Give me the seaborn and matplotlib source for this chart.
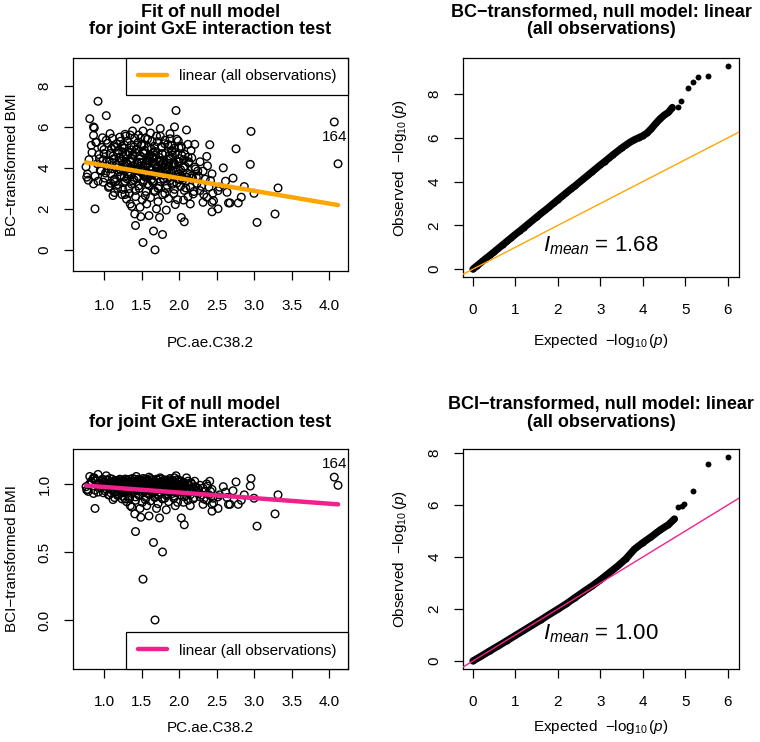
#null model fits and QQ plots for BC / BCI transformed BMI
import numpy as np
import pandas as pd
import seaborn as sns
from matplotlib import pyplot as plt

# scatter data: PC.ae.C38.2 vs transformed BMI
pc_ae = [0.92, 0.81, 1.03, 1.43, 1.60, 1.96, 0.86, 0.87, 2.10, 2.96, 4.07, 4.12, 2.41, 2.76, 2.37,
         2.95, 2.59, 2.72, 3.32, 2.87, 3.00, 3.28, 3.04, 0.88, 1.52, 1.68, 1.66, 1.78, 1.42, 2.07,
         2.03, 1.74, 1.60, 1.49, 1.41, 1.37, 2.44, 2.52, 2.79, 2.68, 2.83, 2.46, 0.77, 0.86,
         1.75, 1.88, 1.94, 1.52, 1.38, 1.28, 1.08, 0.98, 0.86, 2.21, 2.12, 2.00, 2.17, 2.21, 2.32,
         2.44, 2.42, 2.40, 2.45, 2.37, 2.32, 2.44, 2.19, 2.28, 2.52, 2.66, 1.12, 1.24, 1.35, 1.48,
         1.57, 1.70, 1.83, 1.95, 2.06, 2.15, 1.30, 0.99, 2.54, 2.64, 2.62,
         0.76, 0.78, 0.80, 0.84, 0.83, 0.90, 0.79,
         0.88, 0.91, 0.93, 0.95, 0.97, 0.99, 0.92, 1.00,
         1.02, 1.04, 1.05, 1.07, 1.08, 1.10, 1.11, 1.13, 1.14, 1.15,
         1.17, 1.18, 1.19, 1.21, 1.22, 1.23, 1.25, 1.26, 1.27, 1.28, 1.29,
         1.31, 1.32, 1.33, 1.34, 1.36, 1.37, 1.38, 1.40, 1.41, 1.42, 1.43, 1.44, 1.45,
         1.46, 1.47, 1.48, 1.49, 1.50, 1.51, 1.52, 1.53, 1.54, 1.55, 1.56, 1.57, 1.58, 1.59, 1.60,
         1.61, 1.62, 1.63, 1.64, 1.65, 1.66, 1.67, 1.68, 1.69, 1.70, 1.71, 1.72, 1.73, 1.74,
         1.76, 1.77, 1.78, 1.79, 1.80, 1.81, 1.82, 1.83, 1.85, 1.86, 1.87, 1.88, 1.89,
         1.91, 1.92, 1.93, 1.95, 1.96, 1.97, 1.98, 1.99, 2.01, 2.02, 2.03, 2.04,
         2.06, 2.07, 2.08, 2.09, 2.11, 2.12, 2.13, 2.15, 2.16, 2.18, 2.20, 2.22, 2.24,
         2.26, 2.28, 2.30, 2.33, 2.35, 2.38,
         1.06, 1.19, 1.33, 1.46, 1.58, 1.72, 1.84, 1.97, 2.09,
         1.01, 1.13, 1.27, 1.40, 1.53, 1.66, 1.79, 1.92, 2.05, 2.17,
         0.96, 1.09, 1.22, 1.35, 1.49, 1.62, 1.76, 1.90, 2.02, 2.14,
         1.04, 1.16, 1.30, 1.43, 1.56, 1.69, 1.82, 1.95, 2.08,
         0.94, 1.07, 1.20, 1.34, 1.47, 1.60, 1.74, 1.87, 2.00, 2.12, 2.25,
         1.00, 1.12, 1.25, 1.38, 1.52, 1.65, 1.78, 1.91, 2.04,
         1.10, 1.24, 1.37, 1.50, 1.63, 1.77, 1.90, 2.03,
         0.89, 1.03, 1.17, 1.31, 1.45, 1.58, 1.71, 1.85, 1.99, 2.13,
         1.14, 1.28, 1.42, 1.55, 1.68, 1.81, 1.94,
         1.21, 1.35, 1.49, 1.62, 1.75, 1.88,
         1.09, 1.36, 1.57, 1.79, 2.01, 2.23,
         1.26, 1.44, 1.65, 1.86, 2.06,
         1.23, 1.29, 1.41, 1.48, 1.55, 1.61, 1.67, 1.73, 1.80, 1.84, 1.27, 1.39, 1.51, 1.64, 1.70,
         1.83, 1.31, 1.44, 1.53, 1.59, 1.68, 1.76, 1.87, 1.21, 1.36, 1.46, 1.57, 1.66, 1.79, 1.93,
         1.15, 1.26, 1.38, 1.52, 1.63, 1.75, 1.88, 2.00, 1.20, 1.32, 1.45, 1.57, 1.71, 1.83, 1.96,
         1.11, 1.24, 1.36, 1.50, 1.61, 1.73, 1.86, 1.98, 1.18, 1.30, 1.42, 1.54, 1.66, 1.78, 1.91,
         1.13, 1.27, 1.40, 1.53, 1.67, 1.81, 1.94, 1.06, 1.99, 2.10]
bmi_bc = [7.25, 6.40, 6.55, 6.39, 6.27, 6.80, 6.00, 5.95, 5.85, 5.78, 6.24, 4.20, 5.13, 4.93, 4.56,
          4.17, 4.00, 3.50, 3.02, 3.09, 2.76, 1.75, 1.34, 2.00, 0.36, 0.00, 0.92, 0.75, 1.19, 1.37,
          1.58, 1.58, 1.67, 1.62, 1.75, 2.12, 1.86, 2.00, 2.29, 2.29, 2.57, 2.40, 3.55, 3.22,
          5.92, 5.67, 6.00, 5.80, 5.80, 5.64, 5.67, 5.47, 5.59, 5.15, 5.15, 4.98, 4.49, 4.04, 3.84,
          3.71, 3.38, 3.06, 2.76, 2.57, 2.32, 2.32, 2.73, 2.89, 2.89, 2.29, 2.65, 2.70, 2.24, 2.08,
          2.24, 2.00, 1.94, 2.21, 2.43, 2.24, 2.48, 3.30, 3.06, 2.81, 3.35,
          4.05, 3.70, 4.40, 4.75, 5.10, 5.25, 3.40,
          3.60, 4.20, 4.65, 3.90, 5.00, 4.40, 3.35, 4.90,
          3.75, 4.30, 5.20, 3.10, 4.70, 3.95, 5.45, 4.45, 3.45, 5.00,
          4.15, 3.00, 4.85, 3.60, 5.30, 4.40, 2.95, 3.90, 4.95, 3.35, 5.55,
          4.20, 3.70, 4.75, 2.75, 5.10, 3.20, 4.45, 3.95, 5.45, 2.60, 4.90, 3.50, 4.20,
          5.60, 3.00, 4.60, 3.80, 5.15, 2.45, 4.05, 3.40, 4.85, 5.45, 2.85, 3.65, 4.35, 5.00, 3.15,
          4.60, 2.55, 3.90, 5.30, 3.35, 4.25, 2.90, 4.80, 3.60, 5.55, 4.05, 2.35, 3.10, 4.50,
          3.80, 5.05, 2.70, 4.25, 3.45, 5.35, 4.70, 3.00, 3.95, 2.50, 4.45, 3.55, 5.10,
          3.20, 4.20, 2.75, 4.75, 3.65, 5.40, 2.45, 3.90, 4.45, 3.10, 5.05, 3.50,
          4.00, 2.90, 4.65, 3.35, 3.75, 2.60, 4.30, 3.05, 4.85, 3.50, 2.85, 3.95, 3.25,
          3.60, 4.30, 3.10, 2.70, 3.45, 4.10,
          3.05, 3.18, 2.98, 3.12, 3.22, 3.00, 3.15, 3.25, 3.02,
          3.50, 3.38, 3.55, 3.42, 3.60, 3.30, 3.48, 3.58, 3.40, 3.62,
          3.85, 3.72, 3.90, 3.78, 3.95, 3.70, 3.88, 3.76, 3.92, 3.68,
          4.10, 4.02, 4.18, 4.05, 4.22, 4.12, 4.00, 4.15, 4.08,
          4.45, 4.32, 4.50, 4.38, 4.28, 4.48, 4.35, 4.42, 4.30, 4.52, 3.85,
          4.70, 4.58, 4.78, 4.62, 4.75, 4.55, 4.68, 4.80, 4.60,
          4.95, 5.05, 4.88, 5.10, 4.92, 5.00, 4.85, 4.98,
          5.25, 5.35, 5.18, 5.30, 5.22, 5.40, 5.28, 5.15, 5.32, 4.25,
          2.80, 2.70, 2.90, 2.65, 2.85, 2.75, 2.95,
          5.50, 5.60, 5.45, 5.70, 5.55, 5.42,
          3.25, 3.65, 4.35, 3.80, 3.45, 3.55,
          4.55, 3.95, 3.30, 4.05, 4.40,
          3.62, 4.28, 3.88, 4.44, 3.56, 4.06, 4.62, 3.74, 4.38, 3.92, 4.02, 4.66, 3.84, 4.52, 3.98,
          4.14, 3.46, 4.24, 4.72, 3.68, 4.16, 4.34, 4.58, 4.48, 3.96, 3.58, 4.12, 3.72, 3.64, 4.26,
          3.32, 3.28, 3.36, 3.30, 3.42, 3.34, 3.38, 3.44, 3.82, 3.80, 3.86, 3.78, 3.84, 3.82, 3.80,
          4.26, 4.32, 4.30, 4.24, 4.34, 4.28, 4.22, 4.30, 4.72, 4.68, 4.74, 4.70, 4.76, 4.66, 4.64,
          5.08, 5.12, 5.02, 5.14, 5.06, 5.18, 4.96, 3.95, 3.70, 3.55]
bmi_bci = [1.07, 1.055, 1.06, 1.055, 1.05, 1.06, 1.045, 1.045, 1.045, 1.04, 1.05, 0.99, 1.02, 1.015, 1.00,
           0.985, 0.98, 0.95, 0.92, 0.92, 0.895, 0.78, 0.69, 0.82, 0.30, 0.00, 0.57, 0.50, 0.65, 0.70,
           0.75, 0.75, 0.765, 0.755, 0.78, 0.83, 0.80, 0.82, 0.85, 0.85, 0.88, 0.86, 0.955, 0.93,
           1.045, 1.04, 1.045, 1.04, 1.04, 1.035, 1.04, 1.035, 1.035, 1.02, 1.02, 1.02, 1.00, 0.98, 0.97,
           0.96, 0.945, 0.92, 0.895, 0.88, 0.85, 0.85, 0.89, 0.905, 0.905, 0.85, 0.885, 0.89, 0.84, 0.82,
           0.84, 0.82, 0.81, 0.84, 0.865, 0.84, 0.87, 0.935, 0.92, 0.90, 0.94,
           0.98, 0.96, 0.995, 1.01, 1.02, 1.025, 0.945,
           0.955, 0.99, 1.005, 0.975, 1.02, 0.995, 0.94, 1.015,
           0.965, 0.99, 1.025, 0.92, 1.01, 0.975, 1.035, 0.995, 0.945, 1.02,
           0.985, 0.915, 1.01, 0.955, 1.03, 0.995, 0.91, 0.975, 1.015, 0.94, 1.035,
           0.99, 0.96, 1.01, 0.895, 1.02, 0.93, 0.995, 0.975, 1.035, 0.88, 1.015, 0.95, 0.99,
           1.035, 0.915, 1.005, 0.97, 1.02, 0.865, 0.98, 0.945, 1.01, 1.035, 0.90, 0.955, 0.99, 1.02, 0.925,
           1.005, 0.875, 0.975, 1.03, 0.94, 0.99, 0.905, 1.01, 0.955, 1.035, 0.98, 0.855, 0.92, 1.00,
           0.97, 1.02, 0.89, 0.99, 0.945, 1.03, 1.01, 0.915, 0.975, 0.87, 0.995, 0.95, 1.02,
           0.93, 0.99, 0.895, 1.01, 0.955, 1.03, 0.865, 0.975, 0.995, 0.92, 1.02, 0.95,
           0.98, 0.905, 1.005, 0.94, 0.96, 0.88, 0.99, 0.92, 1.01, 0.95, 0.90, 0.975, 0.935,
           0.955, 0.99, 0.92, 0.89, 0.945, 0.985,
           0.92, 0.925, 0.91, 0.92, 0.93, 0.915, 0.925, 0.935, 0.915,
           0.95, 0.94, 0.95, 0.945, 0.955, 0.935, 0.95, 0.955, 0.945, 0.955,
           0.97, 0.96, 0.975, 0.965, 0.975, 0.96, 0.97, 0.965, 0.975, 0.96,
           0.985, 0.98, 0.99, 0.98, 0.99, 0.985, 0.98, 0.985, 0.985,
           1.00, 0.99, 1.00, 0.995, 0.99, 1.00, 0.995, 0.995, 0.99, 1.00, 0.97,
           1.01, 1.005, 1.01, 1.005, 1.01, 1.00, 1.01, 1.01, 1.005,
           1.015, 1.02, 1.015, 1.02, 1.015, 1.02, 1.01, 1.02,
           1.025, 1.03, 1.025, 1.03, 1.025, 1.03, 1.03, 1.02, 1.03, 0.99,
           0.90, 0.89, 0.905, 0.885, 0.90, 0.895, 0.91,
           1.035, 1.035, 1.03, 1.04, 1.035, 1.03,
           0.935, 0.955, 0.995, 0.97, 0.945, 0.95,
           1.00, 0.975, 0.935, 0.98, 0.995,
           0.955, 0.99, 0.97, 1.00, 0.95, 0.98, 1.005, 0.96, 0.995, 0.975, 0.98, 1.01, 0.97, 1.00, 0.98,
           0.985, 0.945, 0.99, 1.01, 0.96, 0.985, 0.99, 1.005, 1.00, 0.975, 0.955, 0.985, 0.96, 0.955, 0.99,
           0.94, 0.935, 0.94, 0.935, 0.945, 0.94, 0.94, 0.945, 0.97, 0.97, 0.97, 0.965, 0.97, 0.97, 0.97,
           0.99, 0.99, 0.99, 0.99, 0.99, 0.99, 0.99, 0.99, 1.01, 1.01, 1.01, 1.01, 1.01, 1.01, 1.005,
           1.02, 1.02, 1.02, 1.02, 1.02, 1.025, 1.015, 0.975, 0.96, 0.95]
label_164 = "164"

# fitted null model lines (intercept, slope)
fit_bc = (4.74, -0.62)
fit_bci = (1.019, -0.041)

# QQ data: expected vs observed -log10(p)
qq_bc_exp = [0.0, 0.1, 0.2, 0.3, 0.4, 0.5, 0.6, 0.7, 0.8, 0.9, 1.0, 1.1, 1.2, 1.3, 1.4, 1.5, 1.6,
             1.7, 1.8, 1.9, 2.0, 2.1, 2.2, 2.3, 2.4, 2.5, 2.6, 2.7, 2.8, 2.9, 3.0, 3.1, 3.2, 3.3,
             3.4, 3.5, 3.6, 3.7, 3.8, 3.9, 4.0, 4.1, 4.2, 4.3, 4.4, 4.5, 4.6,
             4.69, 4.83, 4.89, 5.06, 5.17, 5.30, 5.52, 6.01]
qq_bc_obs = [0.00, 0.16, 0.32, 0.48, 0.63, 0.79, 0.95, 1.11, 1.27, 1.43, 1.59, 1.74, 1.90, 2.06,
             2.22, 2.38, 2.54, 2.69, 2.85, 3.01, 3.17, 3.33, 3.49, 3.65, 3.80, 3.96, 4.12, 4.28,
             4.44, 4.60, 4.76, 4.91, 5.07, 5.23, 5.38, 5.53, 5.67, 5.80, 5.91, 6.00, 6.09, 6.22,
             6.42, 6.65, 6.86, 7.03, 7.16,
             7.38, 7.42, 7.70, 8.29, 8.53, 8.79, 8.82, 9.29]
qq_bci_exp = [0.0, 0.2, 0.4, 0.6, 0.8, 1.0, 1.2, 1.4, 1.6, 1.8, 2.0, 2.2, 2.4, 2.6, 2.8, 3.0,
              3.2, 3.4, 3.6, 3.8, 4.0, 4.2, 4.4, 4.6, 4.74,
              4.82, 4.91, 4.97, 5.17, 5.52, 6.01]
qq_bci_obs = [0.00, 0.19, 0.39, 0.58, 0.78, 0.98, 1.18, 1.38, 1.58, 1.79, 1.99, 2.20, 2.43, 2.66,
              2.88, 3.12, 3.38, 3.64, 3.93, 4.30, 4.55, 4.78, 5.03, 5.24, 5.46,
              5.91, 5.97, 6.04, 6.55, 7.58, 7.86]
imean_bc = 1.68
imean_bci = 1.00

sns.set_theme(style="ticks")
plt.rcParams['font.family'] = ['Liberation Sans', 'DejaVu Sans']
plt.rcParams['mathtext.fontset'] = 'custom'
plt.rcParams['mathtext.rm'] = 'Liberation Sans'
plt.rcParams['mathtext.it'] = 'Liberation Sans:italic'
plt.rcParams['mathtext.bf'] = 'Liberation Sans:bold'
plt.rcParams['axes.edgecolor'] = 'black'
plt.rcParams['axes.linewidth'] = 0.9
plt.rcParams['text.color'] = 'black'
plt.rcParams['axes.labelcolor'] = 'black'
plt.rcParams['xtick.color'] = 'black'
plt.rcParams['ytick.color'] = 'black'

orange = "#FFA500"
pink = "#F0208C"
fs = 11

fig = plt.figure(figsize=(7.6, 7.42), dpi=100)
axTL = fig.add_axes([0.0961, 0.6348, 0.3618, 0.2870])
axTR = fig.add_axes([0.6092, 0.6267, 0.3632, 0.2951])
axBL = fig.add_axes([0.0961, 0.0984, 0.3618, 0.2965])
axBR = fig.add_axes([0.6092, 0.0984, 0.3632, 0.2965])

df = pd.DataFrame({"x": pc_ae, "bc": bmi_bc, "bci": bmi_bci})
xr = np.array([min(pc_ae), max(pc_ae)])


def style_axes(ax, yticks, ylabels, xticks, xlabels, xpad):
    ax.set_xticks(xticks)
    ax.set_xticklabels(xlabels)
    ax.set_yticks(yticks)
    ax.set_yticklabels(ylabels, rotation=90, va='center')
    ax.tick_params(axis='both', length=6.5, width=0.9, color='black', labelsize=fs, labelcolor='black')
    ax.tick_params(axis='x', pad=xpad)
    ax.tick_params(axis='y', pad=9)
    for s in ax.spines.values():
        s.set_visible(True)
        s.set_color('black')


def fitpanel(ax, ycol, fit, col, ylab, yticks, ylabels, ylim, loc, lab_y, xpad, lpad, tpad):
    sns.scatterplot(data=df, x="x", y=ycol, ax=ax, marker='o', s=30, facecolors='none',
                    edgecolor='black', linewidth=1.0, zorder=2)
    sns.lineplot(x=xr, y=fit[0] + fit[1] * xr, ax=ax, color=col, lw=3.2,
                 label="linear (all observations)", zorder=3)
    ax.text(4.07, lab_y, label_164, ha='center', va='center', fontsize=fs)
    ax.set_xlim(0.587, 4.253)
    ax.set_ylim(*ylim)
    style_axes(ax, yticks, ylabels, [1.0, 1.5, 2.0, 2.5, 3.0, 3.5, 4.0],
               ["1.0", "1.5", "2.0", "2.5", "3.0", "3.5", "4.0"], xpad)
    ax.set_xlabel("PC.ae.C38.2", fontsize=fs, labelpad=lpad)
    ax.set_ylabel(ylab, fontsize=fs, labelpad=13)
    ax.set_title("Fit of null model\nfor joint GxE interaction test", fontsize=13,
                 fontweight='bold', pad=tpad, linespacing=1.05)
    leg = ax.legend(loc=loc, fontsize=fs, frameon=True, fancybox=False, edgecolor='black',
                    framealpha=1, borderaxespad=0, borderpad=0.75, handlelength=1.9,
                    handletextpad=0.8)
    leg.get_frame().set_linewidth(0.9)


def qqpanel(ax, ex, ob, col, title, imean, ylim, xpad, lpad, tpad):
    n_dense = len([v for v in ex if v <= 4.75])
    sns.lineplot(x=ex[:n_dense], y=ob[:n_dense], ax=ax, color='black', lw=5.2,
                 sort=False, estimator=None, zorder=2)
    sns.scatterplot(x=ex, y=ob, ax=ax, color='black', s=18, linewidth=0, zorder=2)
    ax.axline((0, 0), slope=1, color=col, lw=1.0, zorder=3)
    ax.text(3.0, 1.05, r"$I_{mean}$ = %.2f" % imean, ha='center', va='center', fontsize=16)
    ax.set_xlim(-0.235, 6.26)
    ax.set_ylim(*ylim)
    style_axes(ax, [0, 2, 4, 6, 8], ["0", "2", "4", "6", "8"], [0, 1, 2, 3, 4, 5, 6],
               ["0", "1", "2", "3", "4", "5", "6"], xpad)
    ax.set_xlabel(r"Expected  $-\log_{10}(p)$", fontsize=fs, labelpad=lpad)
    ax.set_ylabel(r"Observed  $-\log_{10}(p)$", fontsize=fs, labelpad=13)
    ax.set_title(title, fontsize=13, fontweight='bold', pad=tpad, linespacing=1.05)


fitpanel(axTL, "bc", fit_bc, orange, "BC\u2212transformed BMI", [0, 2, 4, 6, 8],
         ["0", "2", "4", "6", "8"], (-1.03, 9.36), "upper right", 5.5, 14, 16, 17)
fitpanel(axBL, "bci", fit_bci, pink, "BCI\u2212transformed BMI", [0.0, 0.5, 1.0],
         ["0.0", "0.5", "1.0"], (-0.36, 1.257), "lower right", 1.145, 12, 9, 16)
qqpanel(axTR, qq_bc_exp, qq_bc_obs, orange, "BC\u2212transformed, null model: linear\n(all observations)",
        imean_bc, (-0.36, 9.64), 12, 11, 17)
qqpanel(axBR, qq_bci_exp, qq_bci_obs, pink, "BCI\u2212transformed, null model: linear\n(all observations)",
        imean_bci, (-0.31, 8.15), 12, 7, 16)

plt.savefig("out.png", dpi=100)
